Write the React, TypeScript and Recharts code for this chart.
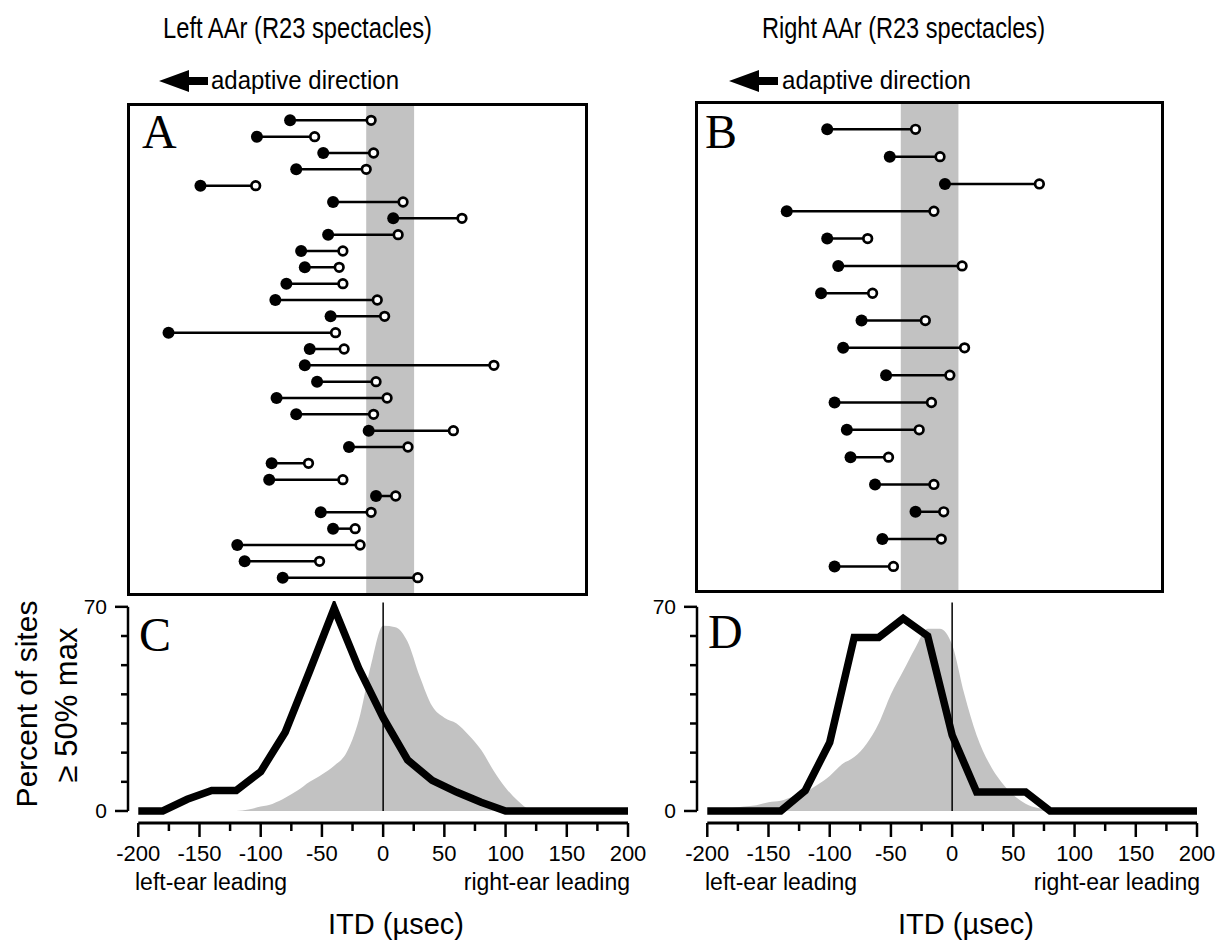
import React from 'react';
import { ComposedChart, Scatter, Line, Area, XAxis, YAxis, ReferenceArea, ReferenceLine } from 'recharts';

// top panels: one row per site, top to bottom, ITD in usec
// filled = best ITD with spectacles, open = expected normal ITD
const leftFilled = [-75, -102, -48, -70, -148, -40, 9, -44, -66, -63, -78, -87, -42, -174, -59, -63, -53, -86, -70, -11, -27, -90, -92, -5, -50, -40, -118, -112, -81];
const leftOpen = [-9, -55, -7, -13, -103, 17, 65, 13, -32, -35, -32, -4, 2, -38, -31, 91, -5, 4, -7, 58, 21, -60, -32, 11, -9, -22, -18, -51, 29];
const rightFilled = [-102, -51, -6, -135, -102, -93, -107, -74, -89, -54, -96, -86, -83, -63, -30, -57, -96];
const rightOpen = [-30, -10, 71, -15, -69, 8, -65, -22, 10, -2, -17, -27, -52, -15, -7, -9, -48];
const leftBand = [-13, 26];
const rightBand = [-42, 5];

// bottom panels: percent of sites >= 50% max
const curveItd = [-200, -180, -160, -140, -120, -100, -80, -60, -40, -20, 0, 20, 40, 60, 80, 100, 120, 140, 160, 180, 200];
const leftCurve = [0, 0, 4, 7, 7, 13.5, 27, 48, 69.5, 49, 32, 17.5, 10.5, 6.5, 3, 0, 0, 0, 0, 0, 0];
const rightCurve = [0, 0, 0, 0, 7, 23.5, 59.5, 59.5, 66, 60, 26, 6.5, 6.5, 6.5, 0, 0, 0, 0, 0, 0, 0];

const areaItd = [-200, -190, -180, -170, -160, -150, -140, -130, -120, -110, -100, -90, -80, -70, -60, -50, -40, -30, -20, -10, 0, 10, 20, 30, 40, 50, 60, 70, 80, 90, 100, 110, 120, 130, 140, 150, 160, 170, 180, 190, 200];
const leftArea = [0, 0, 0, 0, 0, 0, 0, 0, 0, 0.5, 1.5, 2.5, 4.5, 7, 10, 12.5, 15.5, 20, 31, 50, 63.5, 63, 58, 46, 36, 32, 30, 26, 21, 14, 8, 3.5, 0.5, 0, 0, 0, 0, 0, 0, 0, 0];
const rightArea = [0, 0.3, 1, 1.5, 2, 3, 3.5, 5, 6.5, 9, 12, 16, 18.5, 23, 30, 40, 48, 56, 62.5, 62.5, 57, 40, 26, 16.5, 10, 5.5, 2.5, 1, 0.5, 0.5, 0.5, 0.5, 0.5, 0, 0, 0, 0, 0, 0, 0, 0];

const itdTicks = [-200, -175, -150, -125, -100, -75, -50, -25, 0, 25, 50, 75, 100, 125, 150, 175, 200];
const pctTicks = [0, 10, 20, 30, 40, 50, 60, 70];

const SANS = "'Liberation Sans', Arial, Helvetica, sans-serif";
const SERIF = "'Liberation Serif', 'Times New Roman', serif";
const GRAY = '#c2c2c2';

const FilledDot = (p: any) => <circle cx={p.cx} cy={p.cy} r={6} fill="#000" />;
const OpenDot = (p: any) => <circle cx={p.cx} cy={p.cy} r={4.3} fill="#fff" stroke="#000" strokeWidth={2.7} />;

interface DumbbellProps {
  filled: number[];
  open: number[];
  band: number[];
  domain: [number, number];
  rows: number;
  width: number;
  height: number;
}

const Dumbbells = ({ filled, open, band, domain, rows, width, height }: DumbbellProps) => {
  const filledPts = filled.map((x, i) => ({ x, y: i + 1 }));
  const openPts = open.map((x, i) => ({ x, y: i + 1 }));
  return (
    <ComposedChart width={width} height={height} margin={{ top: 0, right: 0, bottom: 0, left: 0 }}>
      <XAxis type="number" dataKey="x" domain={domain} hide allowDataOverflow />
      <YAxis type="number" dataKey="y" domain={[0, rows]} reversed hide allowDataOverflow />
      <ReferenceArea x1={band[0]} x2={band[1]} fill={GRAY} fillOpacity={1} stroke="none" ifOverflow="visible" />
      {filled.map((x, i) => (
        <ReferenceLine
          key={i}
          segment={[{ x, y: i + 1 }, { x: open[i], y: i + 1 }]}
          stroke="#000"
          strokeWidth={2.5}
          ifOverflow="visible"
        />
      ))}
      <Scatter data={filledPts} shape={FilledDot} isAnimationActive={false} />
      <Scatter data={openPts} shape={OpenDot} isAnimationActive={false} />
    </ComposedChart>
  );
};

const ItdTick = (p: any) => {
  const v = p.payload.value;
  const major = v % 50 === 0;
  return (
    <g>
      <line x1={p.x} x2={p.x} y1={p.y} y2={p.y + (major ? 14 : 8)} stroke="#000" strokeWidth={2.5} />
      {major && (
        <text x={p.x} y={p.y + 37.5} textAnchor="middle" fontSize={22} fontFamily={SANS} fill="#000">
          {v}
        </text>
      )}
    </g>
  );
};

const PctTick = (p: any) => {
  const v = p.payload.value;
  const end = v === 0 || v === 70;
  return (
    <g>
      <line x1={p.x - (end ? 13 : 7)} x2={p.x} y1={p.y} y2={p.y} stroke="#000" strokeWidth={2.5} />
      {end && (
        <text x={p.x - 21} y={p.y + 7} textAnchor="end" fontSize={21} fontFamily={SANS} fill="#000">
          {v}
        </text>
      )}
    </g>
  );
};

const X_MIN = -208.4;
const Y_MIN = -4.12;

const Histogram = ({ curve, area }: { curve: number[]; area: number[] }) => {
  const data = areaItd.map((x, i) => {
    const j = curveItd.indexOf(x);
    return { x, area: area[i], curve: j >= 0 ? curve[j] : null };
  });
  return (
    <ComposedChart width={595} height={292} data={data} margin={{ top: 10, right: 25, bottom: 0, left: 0 }}>
      <XAxis
        type="number"
        dataKey="x"
        domain={[X_MIN, 200]}
        ticks={itdTicks}
        interval={0}
        axisLine={false}
        tickLine={false}
        tickSize={0}
        tickMargin={0}
        tick={ItdTick}
        height={60}
        allowDataOverflow
      />
      <YAxis
        type="number"
        domain={[Y_MIN, 72]}
        ticks={pctTicks}
        interval={0}
        axisLine={false}
        tickLine={false}
        tickSize={0}
        tickMargin={0}
        tick={PctTick}
        width={70}
        allowDataOverflow
      />
      <Area
        dataKey="area"
        type="monotone"
        fill={GRAY}
        fillOpacity={1}
        stroke="none"
        baseValue={0}
        isAnimationActive={false}
      />
      <ReferenceLine segment={[{ x: 0, y: 0 }, { x: 0, y: 71.5 }]} stroke="#000" strokeWidth={1.5} ifOverflow="visible" />
      <Line
        dataKey="curve"
        stroke="#000"
        strokeWidth={7.5}
        dot={false}
        connectNulls
        isAnimationActive={false}
      />
      <ReferenceLine segment={[{ x: -200, y: Y_MIN }, { x: 200, y: Y_MIN }]} stroke="#000" strokeWidth={3} ifOverflow="visible" />
      <ReferenceLine segment={[{ x: X_MIN, y: 0 }, { x: X_MIN, y: 70 }]} stroke="#000" strokeWidth={2.5} ifOverflow="visible" />
    </ComposedChart>
  );
};

const Arrow = ({ x, y }: { x: number; y: number }) => (
  <polygon
    points={`${x},${y} ${x + 30},${y - 11} ${x + 30},${y - 4} ${x + 49},${y - 4} ${x + 49},${y + 4} ${x + 30},${y + 4} ${x + 30},${y + 11}`}
    fill="#000"
  />
);

const abs = (left: number, top: number): React.CSSProperties => ({ position: 'absolute', left, top });

export default function App() {
  return (
    <div style={{ position: 'absolute', left: 0, top: 0, width: 1215, height: 948, background: '#fff', overflow: 'hidden' }}>
      <div style={abs(128, 104)}>
        <Dumbbells filled={leftFilled} open={leftOpen} band={leftBand} domain={[-207, 166]} rows={30} width={458} height={490} />
      </div>
      <div style={abs(696, 102)}>
        <Dumbbells filled={rightFilled} open={rightOpen} band={rightBand} domain={[-209, 171]} rows={17.9} width={466} height={489} />
      </div>
      <div style={{ ...abs(126.5, 102.5), width: 461, height: 493, border: '3px solid #000', boxSizing: 'border-box' }} />
      <div style={{ ...abs(694.5, 100.5), width: 469, height: 492, border: '3px solid #000', boxSizing: 'border-box' }} />

      <div style={abs(58, 590.7)}>
        <Histogram curve={leftCurve} area={leftArea} />
      </div>
      <div style={abs(627, 590.7)}>
        <Histogram curve={rightCurve} area={rightArea} />
      </div>

      <svg width={1215} height={948} style={{ position: 'absolute', left: 0, top: 0, pointerEvents: 'none' }}>
        <text x={297.5} y={38} textAnchor="middle" fontSize={30} fontFamily={SANS} textLength={269} lengthAdjust="spacingAndGlyphs">
          Left AAr (R23 spectacles)
        </text>
        <text x={903.5} y={38} textAnchor="middle" fontSize={30} fontFamily={SANS} textLength={283} lengthAdjust="spacingAndGlyphs">
          Right AAr (R23 spectacles)
        </text>
        <Arrow x={159} y={81} />
        <text x={211} y={89} fontSize={26} fontFamily={SANS} textLength={188} lengthAdjust="spacingAndGlyphs">
          adaptive direction
        </text>
        <Arrow x={729} y={81} />
        <text x={782} y={89} fontSize={26} fontFamily={SANS} textLength={189} lengthAdjust="spacingAndGlyphs">
          adaptive direction
        </text>

        <text x={142} y={148} fontSize={48} fontFamily={SERIF}>A</text>
        <text x={705} y={148} fontSize={48} fontFamily={SERIF}>B</text>
        <text x={139} y={651} fontSize={48} fontFamily={SERIF}>C</text>
        <text x={708} y={648} fontSize={48} fontFamily={SERIF}>D</text>

        <text x={37} y={704} transform="rotate(-90 37 704)" textAnchor="middle" fontSize={30} fontFamily={SANS}>
          Percent of sites
        </text>
        <text x={77} y={705} transform="rotate(-90 77 705)" textAnchor="middle" fontSize={31} fontFamily={SANS}>
          ≥ 50% max
        </text>

        <text x={135} y={890} fontSize={23} fontFamily={SANS}>left-ear leading</text>
        <text x={630} y={890} textAnchor="end" fontSize={23} fontFamily={SANS}>right-ear leading</text>
        <text x={705} y={890} fontSize={23} fontFamily={SANS}>left-ear leading</text>
        <text x={1200} y={890} textAnchor="end" fontSize={23} fontFamily={SANS}>right-ear leading</text>

        <text x={396} y={934} textAnchor="middle" fontSize={29} fontFamily={SANS}>ITD (µsec)</text>
        <text x={966} y={934} textAnchor="middle" fontSize={29} fontFamily={SANS}>ITD (µsec)</text>
      </svg>
    </div>
  );
}
